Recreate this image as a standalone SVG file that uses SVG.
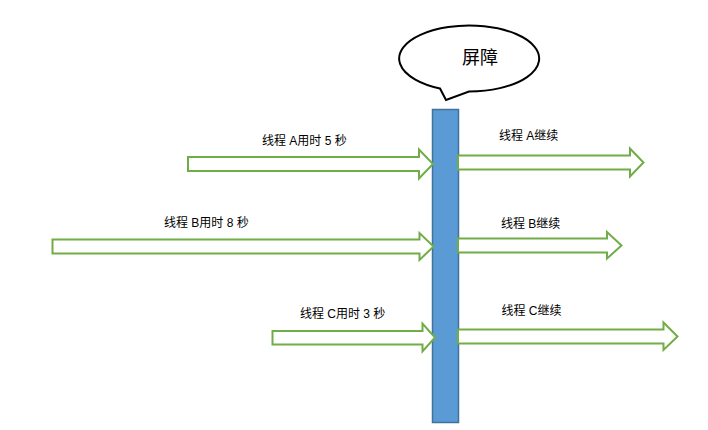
<svg xmlns="http://www.w3.org/2000/svg" width="708" height="430" viewBox="0 0 708 430">
<style>
.arrow{fill:#ffffff;stroke:#70AD47;stroke-width:2;stroke-linejoin:miter}
.lbl{font-family:"Liberation Sans","Noto Sans CJK SC",sans-serif;font-size:12px;fill:#000}
.big{font-family:"Noto Sans CJK SC",sans-serif;font-size:18px;fill:#000}
</style>
<rect width="708" height="430" fill="#ffffff"/>
<g id="callout">
<path d="M440,88.5 A70,33 0 1 1 469,91.5 L446,100 Z" fill="#ffffff" stroke="#000" stroke-width="2" stroke-linejoin="miter"/>
<text class="big" x="480" y="64" text-anchor="middle">屏障</text>
</g>
<g id="barrier">
<rect x="432.5" y="109.5" width="26" height="313" fill="#5B9BD5" stroke="#41719C" stroke-width="1.5"/>
</g>
<g id="connectors">
<polygon class="arrow" points="188,157 419,157 419,149.5 433,164 419,178.5 419,171 188,171"/>
<polygon class="arrow" points="458,155.5 630,155.5 630,148.5 643.5,162.5 630,176.5 630,169.5 458,169.5"/>
<polygon class="arrow" points="52.5,239.5 419.5,239.5 419.5,233 433.5,246.5 419.5,260 419.5,253.5 52.5,253.5"/>
<polygon class="arrow" points="458,238.5 607,238.5 607,232 621.5,245.5 607,258.5 607,252.5 458,252.5"/>
<polygon class="arrow" points="272.5,331 422.5,331 422.5,323.5 435,337.5 422.5,351.5 422.5,344.5 272.5,344.5"/>
<polygon class="arrow" points="458,329.5 663.5,329.5 663.5,322.5 677.5,336.5 663.5,350 663.5,343.5 458,343.5"/>
</g>
<g id="labels">
<text class="lbl" x="262" y="145">线程 A用时 5 秒</text>
<text class="lbl" x="499" y="140">线程 A继续</text>
<text class="lbl" x="164" y="227">线程 B用时 8 秒</text>
<text class="lbl" x="501" y="227.5">线程 B继续</text>
<text class="lbl" x="300" y="318">线程 C用时 3 秒</text>
<text class="lbl" x="501.5" y="314.5">线程 C继续</text>
</g>
</svg>
